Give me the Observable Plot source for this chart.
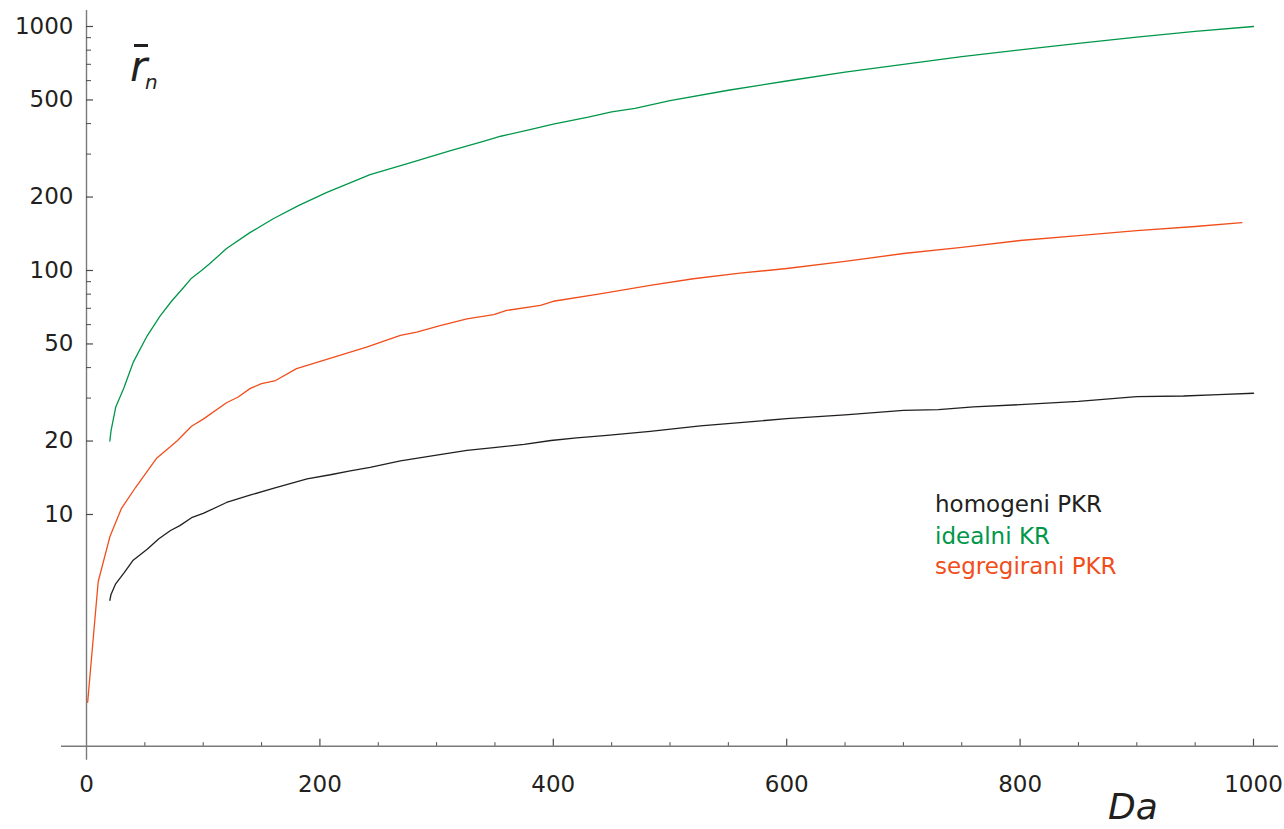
<!DOCTYPE html>
<html><head><meta charset="utf-8">
<script src="https://cdn.jsdelivr.net/npm/d3@7"></script>
<script src="https://cdn.jsdelivr.net/npm/@observablehq/plot@0.6"></script>
<style>
html,body{margin:0;padding:0;background:#fff;}
#wrap{position:relative;width:1284px;height:829px;overflow:hidden;font-family:"DejaVu Sans",sans-serif;color:#231f20;}
#wrap svg{position:absolute;left:0;top:0;}
.lab{position:absolute;line-height:1;white-space:nowrap;}
</style></head><body><div id="wrap"></div>
<script>
// ---- data ----
const homX = [20, 21, 25, 32, 40, 52, 62, 72, 80, 90, 100, 120, 140, 160, 189, 209, 226, 243, 269, 300, 326, 349, 375, 398, 420, 446, 483, 526, 560, 600, 650, 700, 730, 760, 800, 850, 900, 940, 970, 1000];
const homY = [4.45, 4.7, 5.2, 5.75, 6.5, 7.2, 7.95, 8.6, 9.0, 9.7, 10.1, 11.2, 12.0, 12.8, 14.0, 14.55, 15.1, 15.6, 16.6, 17.5, 18.3, 18.8, 19.4, 20.1, 20.6, 21.1, 21.9, 23.1, 23.8, 24.7, 25.6, 26.7, 26.9, 27.6, 28.2, 29.1, 30.4, 30.6, 31.0, 31.4];

const idX = [20, 21, 25, 32, 40, 52, 63, 73, 83, 90, 98, 105, 120, 140, 160, 182, 206, 243, 275, 312, 340, 355, 380, 400, 430, 450, 470, 500, 550, 600, 650, 700, 750, 800, 850, 900, 950, 1000];
const idY = [20, 22, 27.5, 33, 42, 54, 65, 75, 85, 93, 99.5, 106, 123, 143, 163, 185, 209, 247, 274, 310, 338, 355, 378, 398, 425, 447, 462, 497, 548, 598, 650, 700, 752, 802, 852, 905, 955, 1000];

const segX = [1, 10, 20, 30, 42, 60, 68, 78, 90, 100, 120, 130, 140, 150, 162, 180, 210, 240, 269, 283, 303, 326, 349, 360, 389, 400, 440, 483, 520, 560, 600, 650, 700, 750, 800, 850, 900, 950, 990];
const segY = [1.7, 5.3, 8.1, 10.6, 12.9, 17.0, 18.3, 20.1, 23.0, 24.6, 28.7, 30.3, 32.8, 34.4, 35.4, 39.6, 43.8, 48.5, 54.2, 55.9, 59.5, 63.4, 66.0, 68.6, 71.9, 74.8, 80.2, 86.9, 92.5, 97.5, 101.9, 109, 117.4, 124.5, 132.7, 139, 145.8, 151.5, 157];

const yLabelValues = [10, 20, 50, 100, 200, 500, 1000];
const yMinorValues = [30, 40, 60, 70, 80, 90, 300, 400, 600, 700, 800, 900];
const xLabelValues = [0, 200, 400, 600, 800, 1000];
const xMinorValues = [50, 100, 150, 250, 300, 350, 450, 500, 550, 650, 700, 750, 850, 900, 950];

const seriesNames = ["homogeni PKR", "idealni KR", "segregirani PKR"];
const seriesColors = ["#231f20", "#00974a", "#f14e1c"];

// ---- build tables ----
const toRows = (xs, ys) => xs.map((x, i) => ({x, y: ys[i]}));
const hom = toRows(homX, homY);
const ide = toRows(idX, idY);
const seg = toRows(segX, segY);

const AXIS_Y = 1.123; // where the x-axis crosses
const axisGray = "#7a7a7a";
const tickCol = "#4a4a4a";
const textCol = "#231f20";

const chart = Plot.plot({
  width: 1284,
  height: 829,
  marginLeft: 86,
  marginRight: 31,
  marginTop: 26,
  marginBottom: 83.3,
  x: {domain: [0, 1000], axis: null},
  y: {type: "log", domain: [AXIS_Y, 1000], axis: null},
  style: {fontFamily: "DejaVu Sans", background: "transparent"},
  marks: [
    // axis lines
    Plot.ruleY([AXIS_Y], {stroke: axisGray, strokeWidth: 1.4, insetLeft: -25, insetRight: -25}),
    Plot.ruleX([0], {stroke: axisGray, strokeWidth: 1.4, insetTop: -16, insetBottom: -14}),
    // y ticks (pointing inward)
    Plot.ruleY(yLabelValues, {y: d => d, x1: 0, x2: 0, insetRight: -7, stroke: tickCol, strokeWidth: 1.2}),
    Plot.ruleY(yMinorValues, {y: d => d, x1: 0, x2: 0, insetRight: -5, stroke: tickCol, strokeWidth: 1}),
    // x ticks (pointing up)
    Plot.ruleX(xLabelValues.filter(d => d > 0), {x: d => d, y1: AXIS_Y, y2: AXIS_Y, insetTop: -7, stroke: tickCol, strokeWidth: 1.2}),
    Plot.ruleX(xMinorValues, {x: d => d, y1: AXIS_Y, y2: AXIS_Y, insetTop: -3.5, stroke: tickCol, strokeWidth: 1}),
    // tick labels
    Plot.text(yLabelValues, {x: 0, y: d => d, text: d => String(d), textAnchor: "end", dx: -13, fontSize: 23, fill: textCol}),
    Plot.text(xLabelValues, {x: d => d, y: AXIS_Y, text: d => String(d), dy: 38, fontSize: 23, fill: textCol}),
    // data lines
    Plot.line(hom, {x: "x", y: "y", stroke: seriesColors[0], strokeWidth: 1.3}),
    Plot.line(ide, {x: "x", y: "y", stroke: seriesColors[1], strokeWidth: 1.3}),
    Plot.line(seg, {x: "x", y: "y", stroke: seriesColors[2], strokeWidth: 1.3})
  ]
});

const wrap = document.getElementById("wrap");
wrap.appendChild(chart);

function addLabel(text, left, top, size, color, italic) {
  const d = document.createElement("div");
  d.className = "lab";
  d.textContent = text;
  d.style.left = left + "px";
  d.style.top = top + "px";
  d.style.fontSize = size + "px";
  d.style.color = color;
  if (italic) d.style.fontStyle = "italic";
  wrap.appendChild(d);
  return d;
}
// legend
const legendTops = [493.2, 524.5, 554.8];
seriesNames.forEach((n, i) => addLabel(n, 935, legendTops[i], 23, seriesColors[i], false));
// y-axis title r̄_n
addLabel("r", 130, 45.5, 42, textCol, true);
addLabel("n", 145, 71.5, 20, textCol, true);
const bar = document.createElement("div");
bar.style.cssText = "position:absolute;left:134px;top:43.5px;width:14px;height:3px;background:#231f20;";
wrap.appendChild(bar);
// x-axis title
addLabel("Da", 1108, 789, 36, textCol, true);
</script>
</body></html>
